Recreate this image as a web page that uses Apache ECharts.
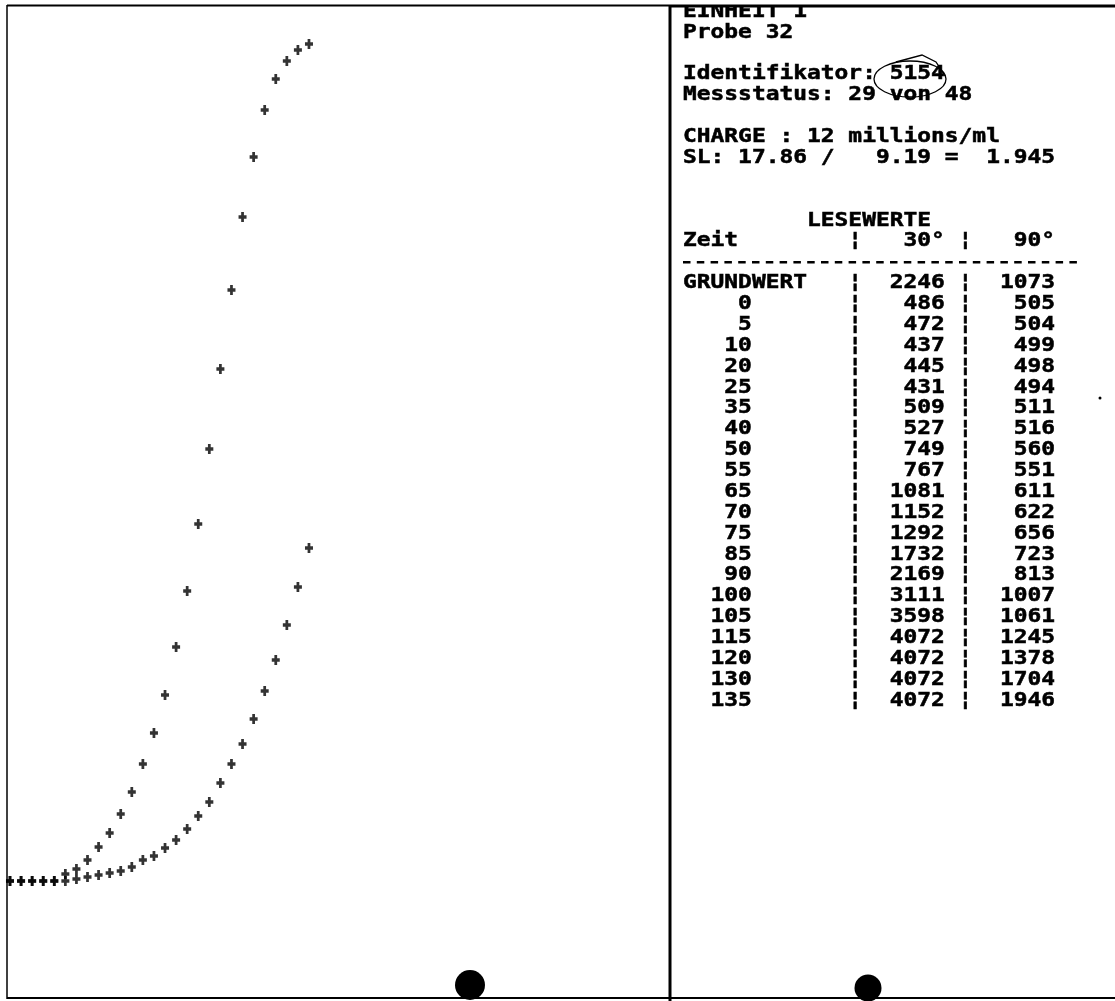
<!DOCTYPE html>
<html><head><meta charset="utf-8">
<script src="https://cdn.jsdelivr.net/npm/echarts@6/dist/echarts.min.js"></script>
<style>html,body{margin:0;padding:0;background:#fff}#c{width:1115px;height:1001px}</style>
</head><body><div id="c"></div>
<script>
// measurement index (x) for both curves
const measureIndex = [0,1,2,3,4,5,6,7,8,9,10,11,12,13,14,15,16,17,18,19,20,21,22,23,24,25,26,27];
// relative signal (upper curve = 30°, lower curve = 90°)
const signal30 = [117,117,117,117,117,124,129,138,151,165,184,206,234,265,303,351,407,474,549,629,708,781,841,888,919,937,948,954];
const signal90 = [117,117,117,117,117,117,119,121,123,125,127,131,138,142,150,158,169,182,196,215,234,254,279,307,338,373,411,450];

// printed header
const headerLines = ['EINHEIT 1','Probe 32','','Identifikator: 5154','Messstatus: 29 von 48','','CHARGE : 12 millions/ml','SL: 17.86 /   9.19 =  1.945','',''];
const tableTitle = 'LESEWERTE';
const colTitles = ['Zeit','30°','90°'];
// table of readings
const tableTimes = ['GRUNDWERT','0','5','10','20','25','35','40','50','55','65','70','75','85','90','100','105','115','120','130','135'];
const table30 = [2246,486,472,437,445,431,509,527,749,767,1081,1152,1292,1732,2169,3111,3598,4072,4072,4072,4072];
const table90 = [1073,505,504,499,498,494,511,516,560,551,611,622,656,723,813,1007,1061,1245,1378,1704,1946];

const FONT_SIZE = 19, CHAR_W = 13.78, SCALE_X = CHAR_W / (0.6021 * FONT_SIZE);
const TX = 683, LINE0 = 11.8, PITCH = 20.88;

function pad(s, n) { s = String(s); return s.length >= n ? s : ' '.repeat(n - s.length) + s; }

const lines = headerLines.slice();
lines.push(' '.repeat(9) + tableTitle);
lines.push(colTitles[0].padEnd(12) + '¦' + pad(colTitles[1], 6) + ' ¦' + pad(colTitles[2], 6));
lines.push(null); // dashed rule
for (let i = 0; i < tableTimes.length; i++) {
  const t = i === 0 ? tableTimes[i].padEnd(12) : pad(tableTimes[i], 5).padEnd(12);
  lines.push(t + '¦' + pad(table30[i], 6) + ' ¦' + pad(table90[i], 6));
}

const black = '#000';
const graphics = [];
lines.forEach((ln, i) => {
  const y = LINE0 + PITCH * i;
  if (ln === null) {
    graphics.push({ type: 'line', silent: true, z: 10,
      shape: { x1: TX, y1: y, x2: TX + 29 * CHAR_W, y2: y },
      style: { stroke: black, lineWidth: 2.5, lineDash: [7.5, 6.3] } });
    return;
  }
  if (!ln) return;
  graphics.push({
    type: 'text', x: TX, y: y, scaleX: SCALE_X, silent: true, z: 10,
    style: { text: ln, x: 0, y: 0, fill: black, stroke: black, lineWidth: 0.5,
      font: 'bold ' + FONT_SIZE + 'px "DejaVu Sans Mono", monospace',
      textAlign: 'left', textVerticalAlign: 'middle', align: 'left', verticalAlign: 'middle' }
  });
});

// paper edge above the top rule hides the first printed line's top
graphics.push({ type: 'rect', shape: { x: 671, y: 0, width: 444, height: 5 }, style: { fill: '#fff' }, z: 18 });
// frame lines
graphics.push({ type: 'line', shape: { x1: 7, y1: 5.5, x2: 671, y2: 5.5 }, style: { stroke: black, lineWidth: 2 }, z: 20 });
graphics.push({ type: 'line', shape: { x1: 671, y1: 6, x2: 1115, y2: 6 }, style: { stroke: black, lineWidth: 3 }, z: 20 });
graphics.push({ type: 'line', shape: { x1: 7, y1: 998, x2: 1115, y2: 998 }, style: { stroke: black, lineWidth: 2 }, z: 20 });
graphics.push({ type: 'line', shape: { x1: 7, y1: 5, x2: 7, y2: 999 }, style: { stroke: black, lineWidth: 1.5 }, z: 20 });
graphics.push({ type: 'line', shape: { x1: 670, y1: 5, x2: 670, y2: 1001 }, style: { stroke: black, lineWidth: 3 }, z: 20 });
// punch marks
graphics.push({ type: 'circle', shape: { cx: 470, cy: 985, r: 15 }, style: { fill: black }, z: 15 });
graphics.push({ type: 'circle', shape: { cx: 868, cy: 988, r: 13.5 }, style: { fill: black }, z: 15 });
graphics.push({ type: 'circle', shape: { cx: 1100, cy: 398, r: 1.5 }, style: { fill: black }, z: 15 });
// hand drawn circle around identifier
graphics.push({ type: 'ellipse', shape: { cx: 910, cy: 79, rx: 36, ry: 18 }, style: { fill: 'none', stroke: black, lineWidth: 1.3 }, z: 15 });
graphics.push({ type: 'polyline', shape: { points: [[896, 62], [922, 55], [936, 62], [945, 76]] }, style: { fill: 'none', stroke: black, lineWidth: 1.3 }, z: 15 });

const plus = 'path://M2.3,0L4.7,0L4.7,3L7,3L7,6L4.7,6L4.7,9L2.3,9L2.3,6L0,6L0,3L2.3,3Z';
const chart = echarts.init(document.getElementById('c'), null, { renderer: 'canvas' });
chart.setOption({
  animation: false,
  backgroundColor: '#fff',
  grid: { left: 7, top: 7, width: 663, height: 991 },
  xAxis: { type: 'value', min: -0.27, max: 59.6, show: false },
  yAxis: { type: 'value', min: 0, max: 991, show: false },
  series: [
    { name: '30°', type: 'scatter', symbol: plus, symbolSize: [8, 10], itemStyle: { color: '#000' },
      data: measureIndex.map((x, i) => [x, signal30[i]]) },
    { name: '90°', type: 'scatter', symbol: plus, symbolSize: [8, 10], itemStyle: { color: '#000' },
      data: measureIndex.map((x, i) => [x, signal90[i]]) }
  ],
  graphic: { elements: graphics }
});
</script>
</body></html>
